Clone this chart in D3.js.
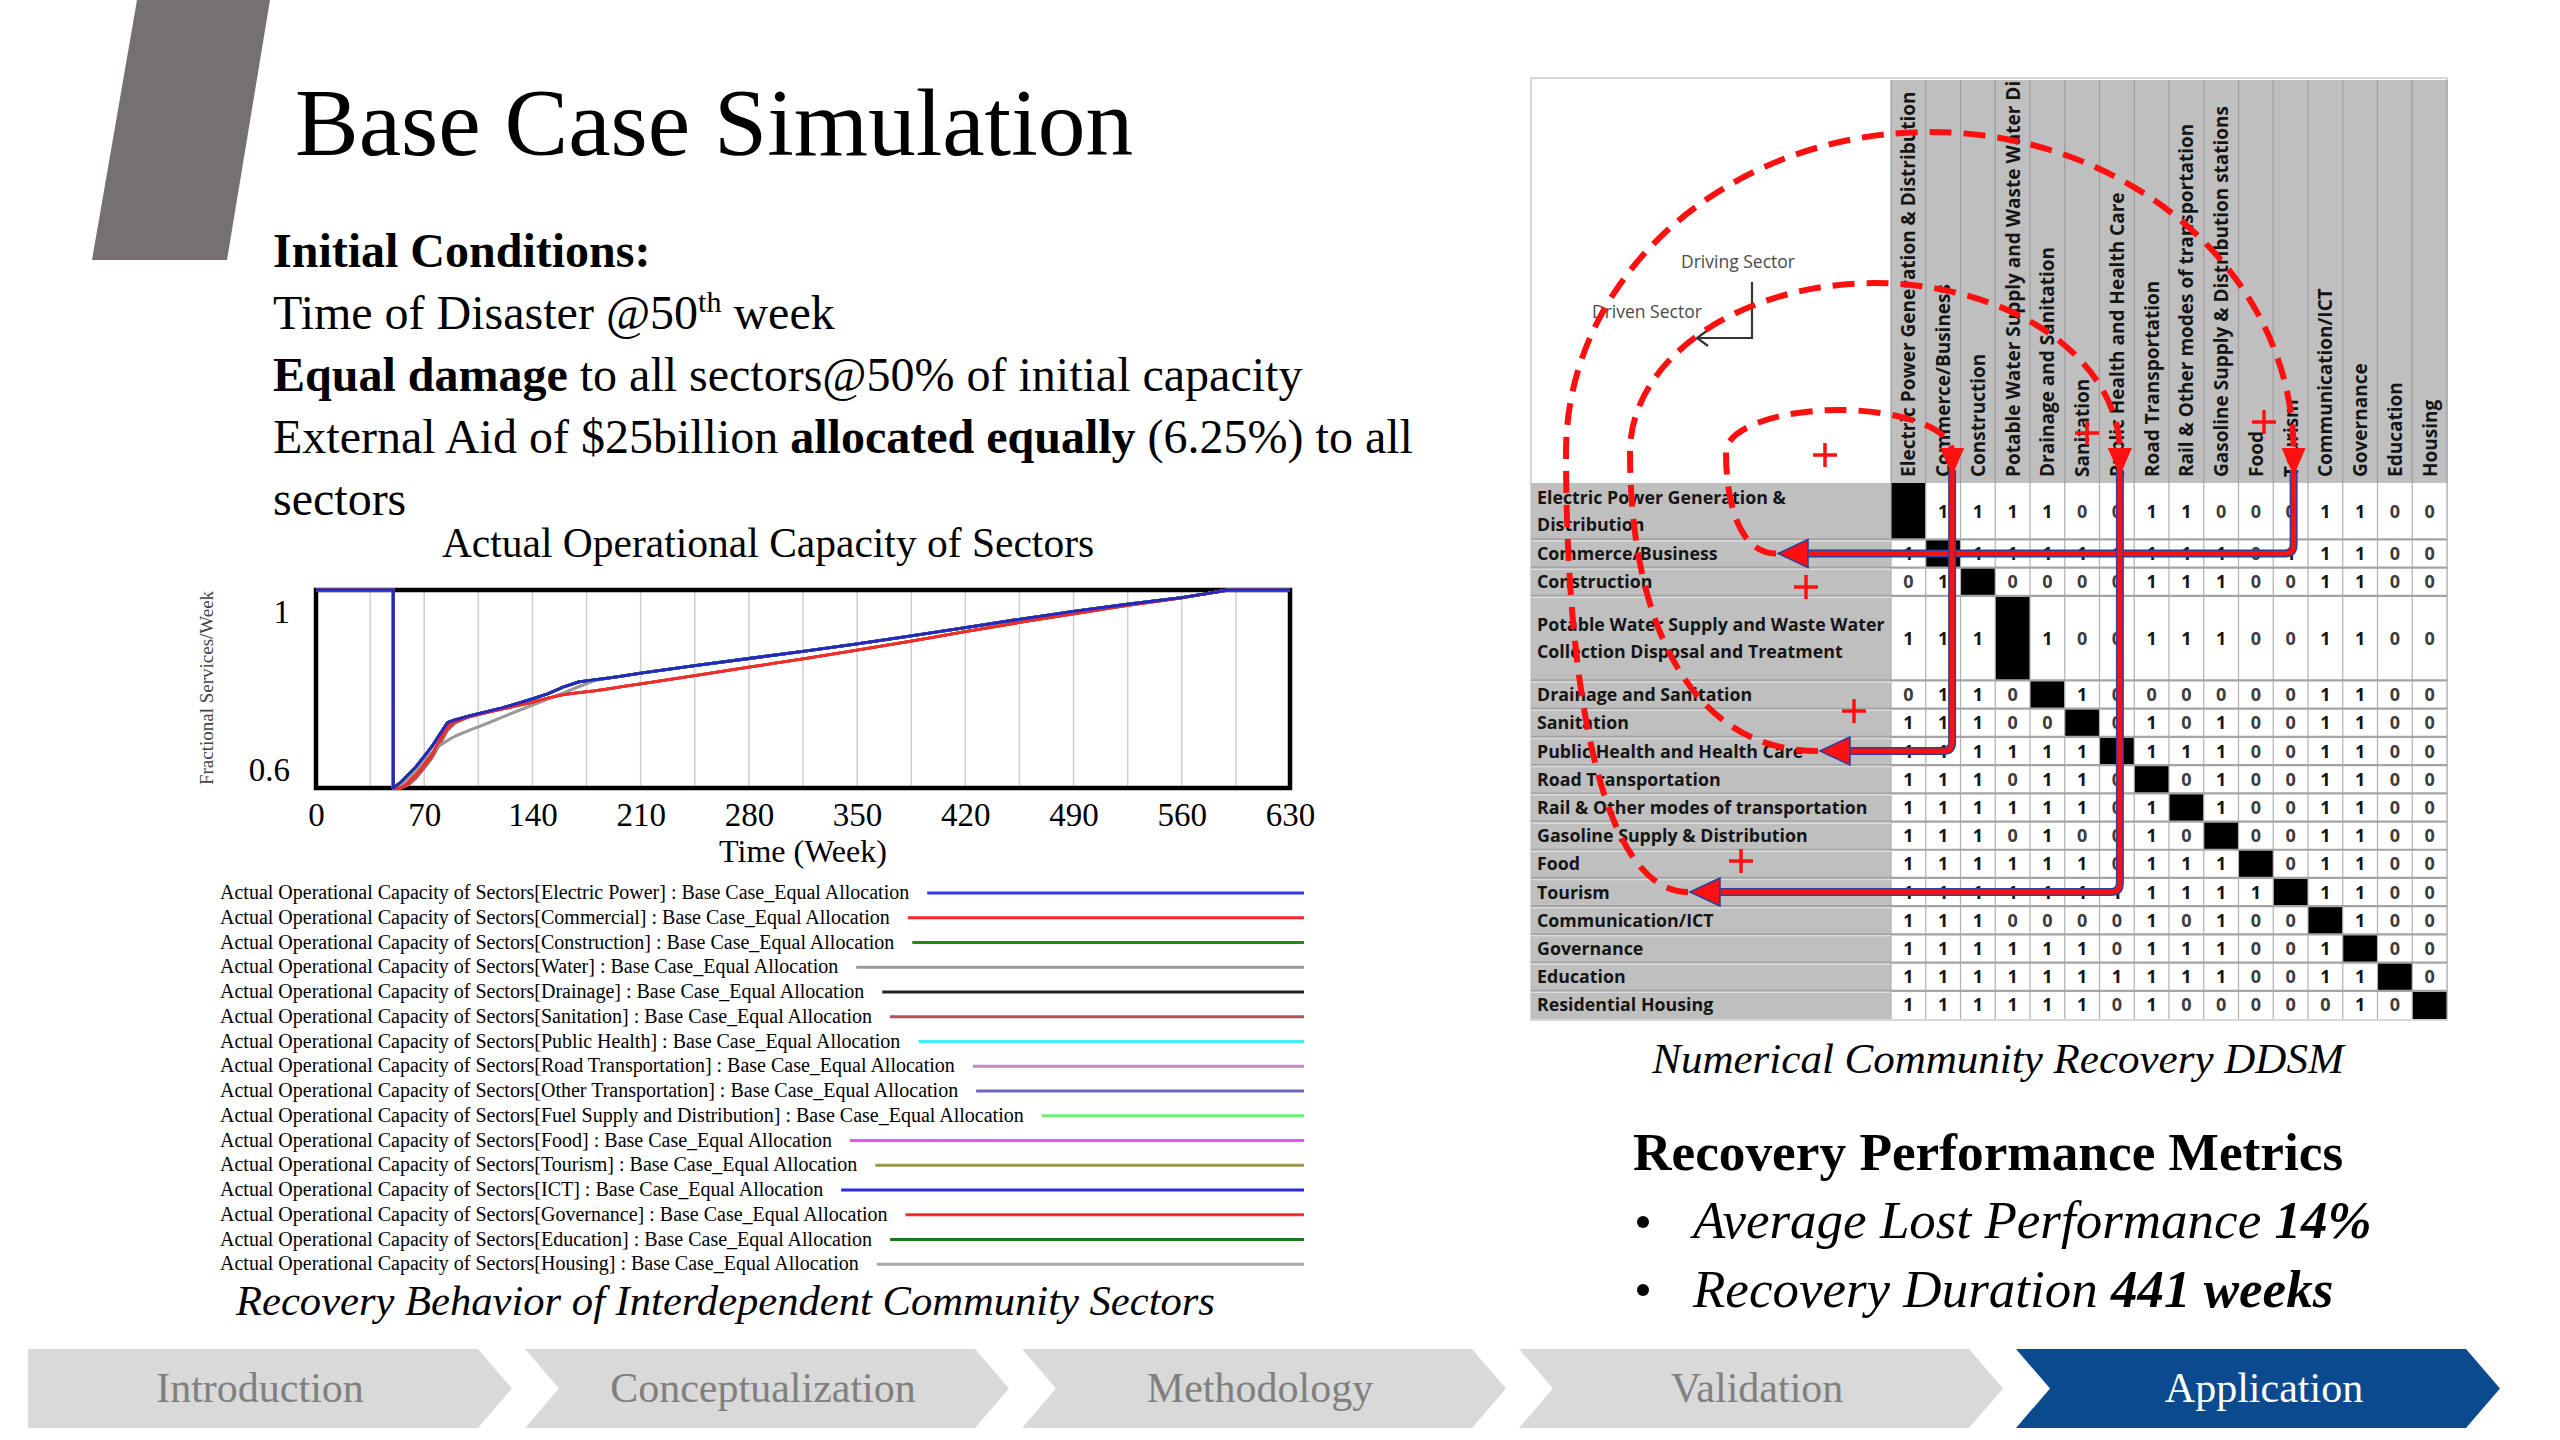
<!DOCTYPE html>
<html><head><meta charset="utf-8">
<script src="https://cdn.jsdelivr.net/npm/d3@7"></script>
<style>html,body{margin:0;padding:0;background:#fff;} svg{display:block;}</style>
</head><body>
<svg id="slide" width="2560" height="1440"></svg>
<script>
// ---------------- DATA ----------------
const weeks = [0,50,50,55,60,65,70,75,80,85,90,100,110,120,130,140,150,160,170,180,190,200,210,245,280,315,350,385,420,455,490,525,560,575,590,630];
const fastRecovery = [1,1,0.5,0.515,0.535,0.555,0.58,0.605,0.635,0.665,0.672,0.683,0.692,0.702,0.713,0.725,0.738,0.755,0.768,0.773,0.778,0.784,0.79,0.809,0.827,0.845,0.864,0.884,0.905,0.926,0.946,0.964,0.981,0.99,1,1];
const commercialRecovery = [1,1,0.5,0.5,0.515,0.535,0.56,0.585,0.62,0.655,0.669,0.681,0.69,0.699,0.708,0.716,0.727,0.736,0.741,0.745,0.751,0.757,0.763,0.784,0.805,0.826,0.848,0.871,0.895,0.918,0.94,0.961,0.98,0.99,1,1];
const sanitationRecovery = [1,1,0.5,0.5,0.508,0.526,0.55,0.576,0.61,0.645,0.664,0.681,0.69,0.699,0.708,0.716,0.727,0.736,0.741,0.745,0.751,0.757,0.763,0.784,0.805,0.826,0.848,0.871,0.895,0.918,0.94,0.961,0.98,0.99,1,1];
const waterRecovery = [1,1,0.5,0.51,0.525,0.545,0.568,0.59,0.607,0.62,0.631,0.647,0.662,0.678,0.694,0.709,0.725,0.74,0.756,0.771,0.778,0.784,0.79,0.809,0.827,0.845,0.864,0.884,0.905,0.926,0.946,0.964,0.981,0.99,1,1];

const sectors = ["Electric Power","Commercial","Construction","Water","Drainage","Sanitation","Public Health","Road Transportation","Other Transportation","Fuel Supply and Distribution","Food","Tourism","ICT","Governance","Education","Housing"];
const sectorTrajectory = ["fast","commercial","fast","water","fast","sanitation","fast","fast","fast","fast","fast","commercial","fast","commercial","fast","water"];
const trajectories = {fast: fastRecovery, commercial: commercialRecovery, sanitation: sanitationRecovery, water: waterRecovery};
const sectorColors = ["#3434e8","#f52a2a","#1f8a1f","#9a9a9a","#222222","#b05454","#44eefc","#c48ac4","#6a6ab8","#6cf06c","#f84cf8","#9c9a40","#2a2af0","#f52a2a","#1a7a1a","#a8a8a8"];

const xTicks = [0,70,140,210,280,350,420,490,560,630];
const yTicks = [0.6,1];
const gridWeeks = d3.range(35,630,35);

const ddsmRowLabels = [["Electric Power Generation &","Distribution"],["Commerce/Business"],["Construction"],["Potable Water Supply and Waste Water","Collection Disposal and Treatment"],["Drainage and Sanitation"],["Sanitation"],["Public Health and Health Care"],["Road Transportation"],["Rail & Other modes of transportation"],["Gasoline Supply & Distribution"],["Food"],["Tourism"],["Communication/ICT"],["Governance"],["Education"],["Residential Housing"]];
const ddsmColLabels = ["Electric Power Generation & Distribution","Commerce/Business","Construction","Potable Water Supply and Waste Water Disposal","Drainage and Sanitation","Sanitation","Public Health and Health Care","Road Transportation","Rail & Other modes of transportation","Gasoline Supply & Distribution stations","Food","Tourism","Communication/ICT","Governance","Education","Housing"];
const ddsm = [
 [null,1,1,1,1,0,0,1,1,0,0,0,1,1,0,0],
 [1,null,1,1,1,1,1,1,1,1,0,1,1,1,0,0],
 [0,1,null,0,0,0,0,1,1,1,0,0,1,1,0,0],
 [1,1,1,null,1,0,0,1,1,1,0,0,1,1,0,0],
 [0,1,1,0,null,1,0,0,0,0,0,0,1,1,0,0],
 [1,1,1,0,0,null,0,1,0,1,0,0,1,1,0,0],
 [1,1,1,1,1,1,null,1,1,1,0,0,1,1,0,0],
 [1,1,1,0,1,1,0,null,0,1,0,0,1,1,0,0],
 [1,1,1,1,1,1,0,1,null,1,0,0,1,1,0,0],
 [1,1,1,0,1,0,0,1,0,null,0,0,1,1,0,0],
 [1,1,1,1,1,1,0,1,1,1,null,0,1,1,0,0],
 [1,1,1,1,1,1,1,1,1,1,1,null,1,1,0,0],
 [1,1,1,0,0,0,0,1,0,1,0,0,null,1,0,0],
 [1,1,1,1,1,1,0,1,1,1,0,0,1,null,0,0],
 [1,1,1,1,1,1,1,1,1,1,0,0,1,1,null,0],
 [1,1,1,1,1,1,0,1,0,0,0,0,0,1,0,null]
];
const loopSectors = [1,6,11]; // Commerce, Public Health, Tourism
const navSteps = ["Introduction","Conceptualization","Methodology","Validation","Application"];
const activeStep = 4;

// ---------------- LAYOUT / STYLE ----------------
const svg = d3.select("#slide");
const serif = "'Liberation Serif','Times New Roman',serif";
const sans = "'Open Sans','Liberation Sans',sans-serif";

svg.append("rect").attr("width",2560).attr("height",1440).attr("fill","#fff");
svg.append("polygon").attr("points","137,0 270,0 227,260 92,260").attr("fill","#767171");
svg.append("text").attr("x",295).attr("y",155).attr("font-family",serif).attr("font-size",95.5).attr("fill","#000").text("Base Case Simulation");

// body text
const body = svg.append("g").attr("font-family",serif).attr("font-size",48).attr("fill","#000");
body.append("text").attr("x",273).attr("y",267).attr("font-weight","bold").text("Initial Conditions:");
const t2 = body.append("text").attr("x",273).attr("y",329);
t2.append("tspan").text("Time of Disaster @50");
t2.append("tspan").attr("font-size",30).attr("dy",-17).text("th");
t2.append("tspan").attr("dy",17).text(" week");
const t3 = body.append("text").attr("x",273).attr("y",391);
t3.append("tspan").attr("font-weight","bold").text("Equal damage");
t3.append("tspan").text(" to all sectors@50% of initial capacity");
const t4 = body.append("text").attr("x",273).attr("y",453);
t4.append("tspan").text("External Aid of $25billion ");
t4.append("tspan").attr("font-weight","bold").text("allocated equally");
t4.append("tspan").text(" (6.25%) to all");
body.append("text").attr("x",273).attr("y",515).text("sectors");

// ---------------- LINE CHART ----------------
const x = d3.scaleLinear().domain([0,630]).range([316,1290]);
const y = d3.scaleLinear().domain([0.5,1]).range([788,590]);
const chart = svg.append("g");
chart.append("text").attr("x",768).attr("y",557).attr("text-anchor","middle").attr("font-family",serif).attr("font-size",41.5).text("Actual Operational Capacity of Sectors");

chart.selectAll("line.grid").data(gridWeeks).join("line").attr("class","grid")
  .attr("x1",d=>x(d)).attr("x2",d=>x(d)).attr("y1",y(1)).attr("y2",y(0.5))
  .attr("stroke","#cfcfcf").attr("stroke-width",1.5);
chart.append("rect").attr("x",x(0)).attr("y",y(1)).attr("width",x(630)-x(0)).attr("height",y(0.5)-y(1))
  .attr("fill","none").attr("stroke","#000").attr("stroke-width",4.5);

const xAxis = chart.append("g").attr("transform",`translate(0,${y(0.5)})`)
  .call(d3.axisBottom(x).tickValues(xTicks).tickSize(0).tickPadding(15).tickFormat(d3.format("d")));
xAxis.select(".domain").remove();
xAxis.selectAll("text").attr("font-family",serif).attr("font-size",33).attr("fill","#000");

const yAxis = chart.append("g").attr("transform",`translate(${x(0)},0)`)
  .call(d3.axisLeft(y).tickValues(yTicks).tickSize(0).tickPadding(26).tickFormat(d=>d===1?"1":d3.format(".1f")(d)));
yAxis.select(".domain").remove();
yAxis.selectAll("text").attr("font-family",serif).attr("font-size",33).attr("fill","#000").attr("transform","translate(0,22)");

chart.append("text").attr("x",803).attr("y",862).attr("text-anchor","middle").attr("font-family",serif).attr("font-size",32).text("Time (Week)");
chart.append("text").attr("transform","translate(213,688) rotate(-90)").attr("text-anchor","middle")
  .attr("font-family",serif).attr("font-size",19).attr("fill","#444").text("Fractional Services/Week");

const lineGen = d3.line().x((d,i)=>x(weeks[i])).y(d=>y(d));
const drawOrder = d3.range(sectors.length).reverse();
chart.selectAll("path.series").data(drawOrder).join("path").attr("class","series")
  .attr("d",i=>lineGen(trajectories[sectorTrajectory[i]]))
  .attr("fill","none").attr("stroke",i=>i===0?"#2626c8":sectorColors[i]).attr("stroke-width",2.8).attr("stroke-linejoin","round");

// legend
const legend = svg.append("g").attr("font-family",serif).attr("font-size",20).attr("fill","#000");
sectors.forEach((s,i)=>{
  const cy = 893 + i*24.75;
  const t = legend.append("text").attr("x",220).attr("y",cy+6).text(`Actual Operational Capacity of Sectors[${s}] : Base Case_Equal Allocation`);
  const w = t.node().getComputedTextLength();
  legend.append("line").attr("x1",220+w+18).attr("x2",1304).attr("y1",cy).attr("y2",cy)
    .attr("stroke",sectorColors[i]).attr("stroke-width",3);
});
svg.append("text").attr("x",236).attr("y",1315).attr("font-family",serif).attr("font-style","italic").attr("font-size",42.6)
  .text("Recovery Behavior of Interdependent Community Sectors");

// ---------------- DDSM MATRIX ----------------
const M = svg.append("g");
const rowSpan = [2,1,1,3,1,1,1,1,1,1,1,1,1,1,1,1];
const rowStart = [0, ...d3.cumsum(rowSpan)];
const yU = d3.scaleLinear().domain([0, d3.sum(rowSpan)]).range([483, 1019]);
const xC = d3.scaleBand().domain(d3.range(16)).range([1891, 2447]);
const rowTop = r=>yU(rowStart[r]), rowBot = r=>yU(rowStart[r+1]), rowMid = r=>(rowTop(r)+rowBot(r))/2;
const colMid = c=>xC(c)+xC.bandwidth()/2;
const colEdge = c=>c<16?xC(c):2447;

M.append("rect").attr("x",1531).attr("y",78).attr("width",916).attr("height",942).attr("fill","#fff").attr("stroke","#d6d6d6").attr("stroke-width",2);
M.append("rect").attr("x",1891).attr("y",80).attr("width",556).attr("height",403).attr("fill","#bfbfbf");
M.append("rect").attr("x",1531).attr("y",483).attr("width",360).attr("height",536).attr("fill","#bfbfbf");

// header labels
const clip = svg.append("defs").append("clipPath").attr("id","hclip");
clip.append("rect").attr("x",1891).attr("y",80).attr("width",556).attr("height",403);
const hdr = M.append("g").attr("clip-path","url(#hclip)");
hdr.selectAll("text").data(ddsmColLabels).join("text")
  .attr("transform",(d,i)=>`translate(${colMid(i)+7},477) rotate(-90)`)
  .attr("font-family",sans).attr("font-weight",700).attr("font-size",19).attr("fill","#151515").text(d=>d);
M.selectAll("line.hcol").data(d3.range(17)).join("line").attr("class","hcol")
  .attr("x1",colEdge).attr("x2",colEdge).attr("y1",80).attr("y2",483)
  .attr("stroke","#9e9e9e").attr("stroke-width",1.2);

// cells
ddsm.forEach((row,r)=>{
  row.forEach((v,c)=>{
    M.append("rect").attr("x",xC(c)).attr("y",rowTop(r)).attr("width",xC.bandwidth()).attr("height",rowBot(r)-rowTop(r))
      .attr("fill",v===null?"#000":"#fff");
    if(v!==null){
      M.append("text").attr("x",colMid(c)).attr("y",rowMid(r)+6.5).attr("text-anchor","middle")
        .attr("font-family",sans).attr("font-weight",700).attr("font-size",18).attr("fill",v?"#151515":"#3c3c3c").text(v);
    }
  });
});
M.selectAll("line.vcol").data(d3.range(17)).join("line").attr("class","vcol")
  .attr("x1",colEdge).attr("x2",colEdge).attr("y1",483).attr("y2",1019)
  .attr("stroke","#b0b0b0").attr("stroke-width",1.2);
M.selectAll("line.hrow").data(d3.range(1,16)).join("line").attr("class","hrow")
  .attr("x1",1531).attr("x2",2447).attr("y1",r=>rowTop(r)).attr("y2",r=>rowTop(r))
  .attr("stroke","#a4a4a4").attr("stroke-width",2.2);
M.selectAll("line.hrowl").data(d3.range(1,16)).join("line").attr("class","hrowl")
  .attr("x1",1531).attr("x2",1891).attr("y1",r=>rowTop(r)+1.5).attr("y2",r=>rowTop(r)+1.5)
  .attr("stroke","#dcdcdc").attr("stroke-width",1.5);
ddsmRowLabels.forEach((lines,r)=>{
  const n = lines.length, lh = 27;
  const t = M.append("text").attr("font-family",sans).attr("font-weight",700).attr("font-size",17.8).attr("fill","#151515");
  lines.forEach((l,k)=>{
    t.append("tspan").attr("x",1537).attr("y",rowMid(r)+6.5+(k-(n-1)/2)*lh).text(l);
  });
});

// annotation: driving / driven
const ann = M.append("g").attr("font-family",sans).attr("font-size",17.5).attr("fill","#4a4a4a");
ann.append("text").attr("x",1681).attr("y",268).text("Driving Sector");
ann.append("text").attr("x",1592).attr("y",318).text("Driven Sector");
M.append("path").attr("d","M1752,282 V338 H1697 M1708,330 L1697,338 L1708,346").attr("fill","none").attr("stroke","#333").attr("stroke-width",2.2);

// feedback loop arrows
const loopLayout = {1:{tip:1778,left:1726,peak:410,dx:9}, 6:{tip:1820,left:1630,peak:283,dx:3}, 11:{tip:1690,left:1566,peak:132,dx:3}};
const red = "#ff1010", outline = "#2f3f9a";
const yArc = 452;
loopSectors.forEach((s,k)=>{
  const L = loopLayout[s];
  const ry = rowMid(s), cx = colMid(s) + L.dx;
  const c1x = L.left + (L.tip - L.left)*0.3;
  const d = `M${L.tip-2},${ry} C${c1x},${ry} ${L.left},${ry-(ry-yArc)*0.45} ${L.left},${yArc} A${(cx-L.left)/2},${yArc-L.peak} 0 0 1 ${cx},${yArc}`;
  M.append("path").attr("d",d).attr("fill","none").attr("stroke",red).attr("stroke-width",6).attr("stroke-dasharray","22 12");
  M.append("polygon").attr("points",`${cx-12},${yArc-4} ${cx+12},${yArc-4} ${cx},${yArc+24}`).attr("fill",red);
  const src = loopSectors[(k+2)%3];
  const sx = colMid(src) + loopLayout[src].dx;
  const p = `M${sx},${yArc+18} V${ry-9} Q${sx},${ry} ${sx-9},${ry} H${L.tip+26}`;
  M.append("path").attr("d",p).attr("fill","none").attr("stroke",outline).attr("stroke-width",8).attr("stroke-linejoin","round");
  M.append("path").attr("d",p).attr("fill","none").attr("stroke",red).attr("stroke-width",5).attr("stroke-linejoin","round");
  M.append("polygon").attr("points",`${L.tip},${ry} ${L.tip+30},${ry-14} ${L.tip+30},${ry+14}`).attr("fill",red).attr("stroke",outline).attr("stroke-width",1.5);
});
const plusMarks = [[1825,455],[2087,433],[2264,422],[1806,587],[1854,711],[1741,861]];
M.selectAll("path.plus").data(plusMarks).join("path").attr("class","plus")
  .attr("d",d=>`M${d[0]-12},${d[1]} H${d[0]+12} M${d[0]},${d[1]-12} V${d[1]+12}`)
  .attr("stroke",red).attr("stroke-width",3.5);

// captions & metrics
svg.append("text").attr("x",1998).attr("y",1073).attr("text-anchor","middle").attr("font-family",serif).attr("font-style","italic").attr("font-size",43)
  .text("Numerical Community Recovery DDSM");
svg.append("text").attr("x",1633).attr("y",1170).attr("font-family",serif).attr("font-weight","bold").attr("font-size",53.3)
  .text("Recovery Performance Metrics");
const b1 = svg.append("text").attr("x",1693).attr("y",1238).attr("font-family",serif).attr("font-style","italic").attr("font-size",53);
b1.append("tspan").text("Average Lost Performance ");
b1.append("tspan").attr("font-weight","bold").text("14%");
const b2 = svg.append("text").attr("x",1693).attr("y",1307).attr("font-family",serif).attr("font-style","italic").attr("font-size",53);
b2.append("tspan").text("Recovery Duration ");
b2.append("tspan").attr("font-weight","bold").text("441 weeks");
[1222,1290].forEach(cy=>svg.append("circle").attr("cx",1643).attr("cy",cy).attr("r",6).attr("fill","#000"));

// ---------------- NAV CHEVRONS ----------------
const nav = svg.append("g");
const navX = d3.scaleLinear().domain([0,1]).range([28,525]);
navSteps.forEach((s,i)=>{
  const x0 = navX(i), w = 484, tip = 34, y0 = 1349, y1 = 1428, ym = (y0+y1)/2;
  const pts = i===0
    ? `${x0},${y0} ${x0+w-tip},${y0} ${x0+w},${ym} ${x0+w-tip},${y1} ${x0},${y1}`
    : `${x0},${y0} ${x0+w-tip},${y0} ${x0+w},${ym} ${x0+w-tip},${y1} ${x0},${y1} ${x0+tip},${ym}`;
  nav.append("polygon").attr("points",pts).attr("fill",i===activeStep?"#0b4a8f":"#d9d9d9");
  nav.append("text").attr("x",x0+w/2+(i===0?-10:(i===activeStep?6:-4))).attr("y",ym+13).attr("text-anchor","middle")
    .attr("font-family",serif).attr("font-size",42).attr("fill",i===activeStep?"#fff":"#808080").text(s);
});
</script>
</body></html>
